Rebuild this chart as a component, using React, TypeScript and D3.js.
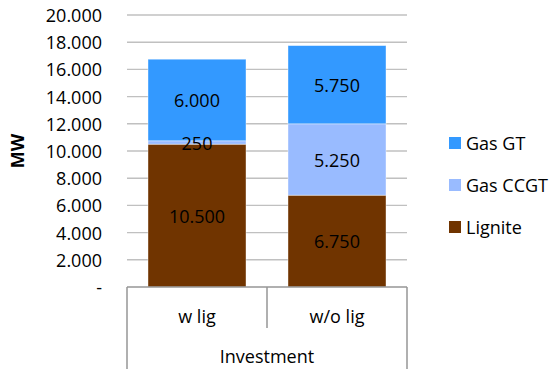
import React from 'react';
import * as d3 from 'd3';

// data
const categories = ['w lig', 'w/o lig'];
const groupLabel = 'Investment';
const seriesNames = ['Lignite', 'Gas CCGT', 'Gas GT'];
const lignite = [10500, 6750];
const gasCCGT = [250, 5250];
const gasGT = [6000, 5750];
const yTicks = [0, 2000, 4000, 6000, 8000, 10000, 12000, 14000, 16000, 18000, 20000];
const colors = ['#703400', '#99BBFF', '#3399FF'];

const W = 549;
const H = 369;
const FONT = '"Open Sans", sans-serif';

const fmt = (v: number) => (v === 0 ? '-' : d3.format(',')(v).replace(/,/g, '.'));

const App = () => {
  const plot = { left: 127, right: 407, top: 15, bottom: 287 };

  const rows = categories.map((c, i) => ({
    cat: c,
    Lignite: lignite[i],
    'Gas CCGT': gasCCGT[i],
    'Gas GT': gasGT[i],
  }));
  const stacked = d3.stack<any>().keys(seriesNames)(rows);

  const x = d3.scaleBand()
    .domain(categories)
    .range([plot.left, plot.right])
    .paddingInner(0.3)
    .paddingOuter(0.15);
  const y = d3.scaleLinear().domain([0, 20000]).range([plot.bottom, plot.top]);

  const step = x.step();
  const legendOrder = [...seriesNames].reverse();

  return (
    <svg width={W} height={H} style={{ position: 'absolute', left: 0, top: 0, background: '#fff' }}
      fontFamily={FONT} fontSize={18}>
      {/* grid */}
      {yTicks.filter(t => t > 0).map(t => (
        <line key={t} x1={plot.left} x2={plot.right} y1={y(t)} y2={y(t)} stroke="#c0c0c0" strokeWidth={1.4} />
      ))}
      {/* y tick labels */}
      {yTicks.map(t => (
        <text key={'l' + t} x={102} y={y(t)} textAnchor="end" dominantBaseline="central" fill="#000">{fmt(t)}</text>
      ))}
      <text transform={`translate(17,${(plot.top + plot.bottom) / 2}) rotate(-90)`} textAnchor="middle"
        dominantBaseline="central" fontWeight="bold" fill="#000">MW</text>

      {/* bars */}
      {stacked.map((s, si) => (
        <g key={s.key}>
          {s.map((d, i) => (
            <rect key={i} x={x(categories[i])} width={x.bandwidth()} y={y(d[1])} height={y(d[0]) - y(d[1])}
              fill={colors[si]} stroke="#ffffff" strokeOpacity={0.5} strokeWidth={0.8} />
          ))}
        </g>
      ))}
      {/* data labels */}
      {stacked.map(s => s.map((d, i) => (
        <text key={s.key + i} x={(x(categories[i]) as number) + x.bandwidth() / 2} y={y((d[0] + d[1]) / 2)}
          textAnchor="middle" dominantBaseline="central" fill="#000">{fmt(d[1] - d[0])}</text>
      )))}

      {/* category axis box */}
      <g stroke="#969696" strokeWidth={1.5} fill="none">
        <line x1={plot.left} x2={plot.right} y1={plot.bottom} y2={plot.bottom} />
        <line x1={plot.left} x2={plot.left} y1={plot.bottom} y2={H} />
        <line x1={plot.right} x2={plot.right} y1={plot.bottom} y2={H} />
        {categories.slice(1).map(c => (
          <line key={c} x1={(x(c) as number) - step * 0.3 / 2} x2={(x(c) as number) - step * 0.3 / 2} y1={plot.bottom} y2={328} />
        ))}
      </g>
      {categories.map(c => (
        <text key={'c' + c} x={(x(c) as number) + x.bandwidth() / 2} y={316} textAnchor="middle"
          dominantBaseline="central" fill="#000">{c}</text>
      ))}
      <text x={(plot.left + plot.right) / 2} y={356} textAnchor="middle" dominantBaseline="central" fill="#000">{groupLabel}</text>

      {/* legend */}
      {legendOrder.map((name, i) => (
        <g key={name} transform={`translate(449,${143 + i * 42})`}>
          <rect x={0} y={-6} width={12} height={12} fill={colors[seriesNames.indexOf(name)]} />
          <text x={17} y={0} dominantBaseline="central" fill="#000">{name}</text>
        </g>
      ))}
    </svg>
  );
};

export default App;
